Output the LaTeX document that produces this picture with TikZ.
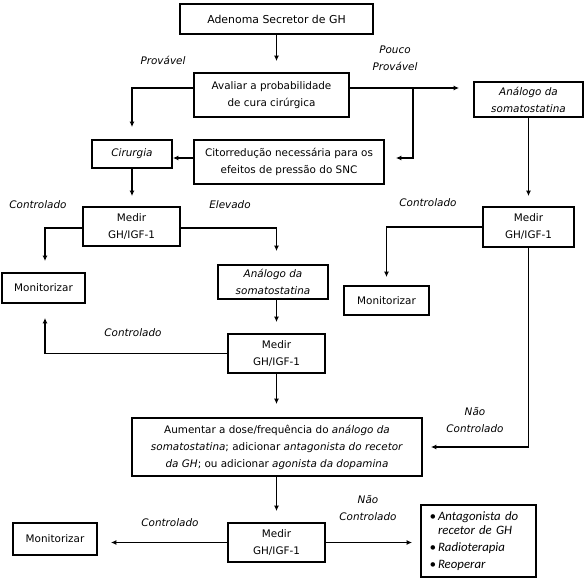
\documentclass[tikz,border=0pt]{standalone}
\usepackage{fontspec}
\setmainfont{DejaVu Sans}
\newfontfamily\calfont{Carlito}
\usetikzlibrary{arrows.meta}
\newcommand{\fsN}{\fontsize{10.4}{17}\selectfont}
\newcommand{\fsL}{\fontsize{10.9}{17}\selectfont}
\tikzset{
  box/.style={draw, line width=1.8pt, align=center, inner sep=0pt, font=\fsN},
  lab/.style={font=\fsN\itshape, align=center, inner sep=0pt},
  arr/.style={line width=1.3pt, -{Latex[length=5.5pt,width=5pt]}},
}
\begin{document}
\begin{tikzpicture}[x=1pt,y=-1pt]
\useasboundingbox (0,0) rectangle (584,580);

% boxes
\node[box, minimum width=193pt, minimum height=30pt, font=\fsL] (adenoma) at (276.5,19) {Adenoma Secretor de GH};
\node[box, minimum width=155pt, minimum height=44pt] (avaliar) at (271.5,95) {Avaliar a probabilidade\\de cura cirúrgica};
\node[box, minimum width=109pt, minimum height=35pt] (analogoR) at (528.5,99.5) {\textit{Análogo da}\\\textit{somatostatina}};
\node[box, minimum width=80pt, minimum height=28pt] (cirurgia) at (132,154) {\textit{Cirurgia}};
\node[box, minimum width=190pt, minimum height=44pt] (citor) at (289,162) {Citorredução necessária para os\\efeitos de pressão do SNC};
\node[box, minimum width=97pt, minimum height=39pt] (medir1) at (131.5,226.5) {Medir\\GH/IGF-1};
\node[box, minimum width=83pt, minimum height=30pt] (mon1) at (43.5,288) {Monitorizar};
\node[box, minimum width=110pt, minimum height=34pt] (analogo2) at (273,282) {\textit{Análogo da}\\\textit{somatostatina}};
\node[box, minimum width=97pt, minimum height=39pt] (medir2) at (276.5,353.5) {Medir\\GH/IGF-1};
\node[box, minimum width=91pt, minimum height=40pt] (medir3) at (528.5,227) {Medir\\GH/IGF-1};
\node[box, minimum width=85pt, minimum height=29pt] (mon2) at (386.5,300.5) {Monitorizar};
\node[box, minimum width=290pt, minimum height=58pt] (aumentar) at (277,447) {Aumentar a dose/frequência do \textit{análogo da}\\\textit{somatostatina}; adicionar \textit{antagonista do recetor}\\\textit{da GH}; ou adicionar \textit{agonista da dopamina}};
\node[box, minimum width=97pt, minimum height=39pt] (medir4) at (276.5,542.5) {Medir\\GH/IGF-1};
\node[box, minimum width=84pt, minimum height=32pt] (mon3) at (55,539) {Monitorizar};
\node[box, text width=98pt, inner xsep=8.5pt, minimum height=72pt, align=left,
      font={\calfont\itshape\fontsize{12.8}{13.5}\selectfont}] (bul) at (478.5,541)
  {•\,Antagonista do\\\hphantom{•\,}recetor de GH\\[3.5pt]•\,Radioterapia\\[3.5pt]•\,Reoperar};

% labels
\node[lab] (lprov) at (163,60) {Provável};
\node[lab] (lpouco) at (395,58) {Pouco\\Provável};
\node[lab] (lc1) at (38,205) {Controlado};
\node[lab] (lelev) at (230,205) {Elevado};
\node[lab] (lc2) at (428,203) {Controlado};
\node[lab] (lc3) at (133,333) {Controlado};
\node[lab] (lnc1) at (475,420) {Não\\Controlado};
\node[lab] (lc4) at (170,523) {Controlado};
\node[lab] (lnc2) at (368,508) {Não\\Controlado};

% connectors
\coordinate (aL) at ([yshift=7pt]avaliar.west);
\coordinate (aR) at ([yshift=7pt]avaliar.east);
\coordinate (br) at (413,88);
\draw[arr, shorten >=11pt] (adenoma.south) -- (adenoma.south |- avaliar.north);
\draw[arr, shorten >=12pt] (aL) -| (cirurgia.north);
\draw[arr, shorten >=14pt] (aR) -- (aR -| analogoR.west);
\draw[arr, shorten >=11pt] (br) |- ([yshift=4pt]citor.east);
\draw[arr] ([yshift=4pt]citor.west) -- ([yshift=4pt]citor.west -| cirurgia.east);
\draw[arr, shorten >=10pt] (cirurgia.south) -- (cirurgia.south |- medir1.north);
\draw[arr, shorten >=11pt] ([yshift=-1.5pt]medir1.west) -| ([xshift=1.5pt]mon1.north);
\draw[arr, shorten >=13pt] ([yshift=-1.5pt]medir1.east) -| (analogo2.north -| medir2.north);
\draw[arr, shorten >=11pt] (analogo2.south -| medir2.north) -- (medir2.north);
\draw[arr, shorten >=14pt] (medir2.west) -| ([xshift=1.5pt]mon1.south);
\draw[arr, shorten >=10pt] (analogoR.south) -- (analogoR.south |- medir3.north);
\draw[arr, shorten >=8pt] (medir3.west) -| (mon2.north);
\draw[arr, shorten >=8pt] (medir3.south) |- (aumentar.east);
\draw[arr, shorten >=13pt] (medir2.south) -- (medir2.south |- aumentar.north);
\draw[arr, shorten >=11pt] (medir2.south |- aumentar.south) -- (medir4.north);
\draw[arr, shorten >=13pt] (medir4.west) -- (medir4.west -| mon3.east);
\draw[arr, shorten >=8pt] (medir4.east) -- (medir4.east -| bul.west);
\end{tikzpicture}
\end{document}
